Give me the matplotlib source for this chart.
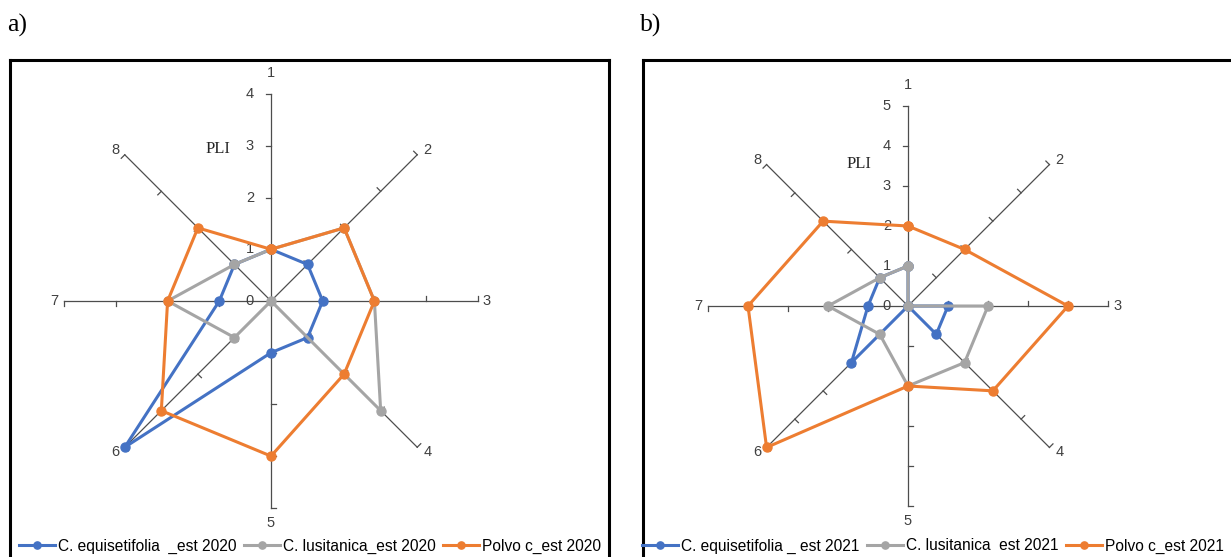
import numpy as np
import matplotlib.pyplot as plt
from matplotlib.font_manager import FontProperties

W, H, DPI = 1231, 557, 100

categories = ["1", "2", "3", "4", "5", "6", "7", "8"]

# PLI per site, 2020
equis_2020 = [1, 1, 1, 1, 1, 4, 1, 1]
lusit_2020 = [1, 2, 2, 3, 0, 1, 2, 1]
polvo_2020 = [1, 2, 2, 2, 3, 3, 2, 2]

# PLI per site, 2021
equis_2021 = [1, 0, 1, 1, 0, 2, 1, 1]
lusit_2021 = [1, 0, 2, 2, 2, 1, 2, 1]
polvo_2021 = [2, 2, 4, 3, 2, 5, 4, 3]

ticks_a = [0, 1, 2, 3, 4]
ticks_b = [0, 1, 2, 3, 4, 5]

labels_a = ["C. equisetifolia  _est 2020", "C. lusitanica_est 2020", "Polvo c_est 2020"]
labels_b = ["C. equisetifolia _ est 2021", "C. lusitanica  est 2021", "Polvo c_est 2021"]

colors = ["#4472C4", "#A5A5A5", "#ED7D31"]

num_font = dict(family=["Liberation Sans", "DejaVu Sans"], size=10.5, color="#404040")
leg_font = FontProperties(family=["Liberation Sans Narrow", "Liberation Sans"], size=11.2)
serif = ["Liberation Serif", "DejaVu Serif"]


def px_axes(fig, left, top, width, height, **kw):
    return fig.add_axes([left / W, 1 - (top + height) / H, width / W, height / H], **kw)


def draw_box(fig, left, top, right, bottom):
    ax = px_axes(fig, left, top, right - left, bottom - top)
    ax.set_xticks([])
    ax.set_yticks([])
    for s in ax.spines.values():
        s.set_linewidth(2.2)
        s.set_color("black")
    return ax


def draw_radar(fig, series, labels, ticks, cx, cy, ppu, pli_pos, legend_x):
    L = ticks[-1] + 1.6
    ax = px_axes(fig, cx - L * ppu, cy - L * ppu, 2 * L * ppu, 2 * L * ppu)
    ax.set_xlim(-L, L)
    ax.set_ylim(-L, L)
    ax.axis("off")
    ax.patch.set_alpha(0)

    n = len(categories)
    ang = 2 * np.pi * np.arange(n) / n
    ux, uy = np.sin(ang), np.cos(ang)
    rmax = ticks[-1]
    tl = 5 / ppu

    # label offsets in pixels, by spoke
    offs = [(0, 21, "center"), (6, 5, "left"), (5, 0, "left"), (6, -5, "left"),
            (0, -15, "center"), (-5, -5, "right"), (-6, 0, "right"), (-5, 5, "right")]

    for k in range(n):
        ax.plot([0, rmax * ux[k]], [0, rmax * uy[k]], color="#4d4d4d", lw=0.9, zorder=1)
        nx, ny = -uy[k], ux[k]
        for t in ticks[1:]:
            ax.plot([t * ux[k], t * ux[k] + tl * nx], [t * uy[k], t * uy[k] + tl * ny],
                    color="#4d4d4d", lw=0.9, zorder=1)
        dx, dy, ha = offs[k]
        ax.annotate(categories[k], (rmax * ux[k], rmax * uy[k]), xytext=(dx, dy),
                    textcoords="offset pixels", ha=ha, va="center", **num_font)

    for t in ticks:
        ax.annotate(str(t), (0, t), xytext=(-17, 0), textcoords="offset pixels",
                    ha="right", va="center", **num_font)

    for vals, c, lab in zip(series, colors, labels):
        v = np.array(vals + vals[:1], dtype=float)
        a = np.append(ang, ang[0])
        ax.plot(v * np.sin(a), v * np.cos(a), color=c, lw=2.2, marker="o",
                ms=6.5, label=lab, zorder=3, clip_on=False)

    ax.text(pli_pos[0], pli_pos[1], "PLI", family=serif, size=12, ha="center",
            va="center", color="#262626")

    ax.legend(loc="center", bbox_to_anchor=(legend_x / W, 1 - 546 / H),
              bbox_transform=fig.transFigure, ncol=3, frameon=False,
              handlelength=2.3, columnspacing=0.5, handletextpad=0.2,
              markerscale=0.8, borderaxespad=0, borderpad=0, prop=leg_font)
    return ax


fig = plt.figure(figsize=(W / DPI, H / DPI), dpi=DPI)
fig.patch.set_facecolor("white")

draw_box(fig, 10, 60, 609, 575)
draw_box(fig, 643, 60, 1245, 575)

fig.text(7 / W, 1 - 25 / H, "a)", family=serif, size=18.5, ha="left", va="center")
fig.text(640 / W, 1 - 25 / H, "b)", family=serif, size=18.5, ha="left", va="center")

draw_radar(fig, [equis_2020, lusit_2020, polvo_2020], labels_a, ticks_a,
           271, 301, 51.7, (-1.03, 2.94), 310)
draw_radar(fig, [equis_2021, lusit_2021, polvo_2021], labels_b, ticks_b,
           908, 306, 40.0, (-1.22, 3.55), 933)

fig.savefig("out.png", dpi=DPI)
